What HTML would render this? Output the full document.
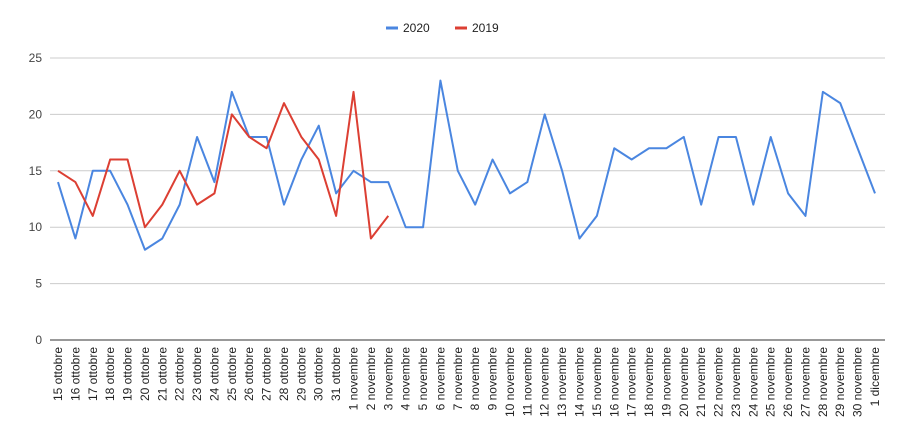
<!DOCTYPE html>
<html><head><meta charset="utf-8"><style>
body{margin:0;background:#fff;font-family:"Liberation Sans",Arial,sans-serif}
</style></head><body>
<svg id="c" width="906" height="441" xmlns="http://www.w3.org/2000/svg" font-family="Liberation Sans, Arial, sans-serif"></svg>
<script>
const categories=["15 ottobre","16 ottobre","17 ottobre","18 ottobre","19 ottobre","20 ottobre","21 ottobre","22 ottobre","23 ottobre","24 ottobre","25 ottobre","26 ottobre","27 ottobre","28 ottobre","29 ottobre","30 ottobre","31 ottobre","1 novembre","2 novembre","3 novembre","4 novembre","5 novembre","6 novembre","7 novembre","8 novembre","9 novembre","10 novembre","11 novembre","12 novembre","13 novembre","14 novembre","15 novembre","16 novembre","17 novembre","18 novembre","19 novembre","20 novembre","21 novembre","22 novembre","23 novembre","24 novembre","25 novembre","26 novembre","27 novembre","28 novembre","29 novembre","30 novembre","1 dicembre"];
const series2020=[14,9,15,15,12,8,9,12,18,14,22,18,18,12,16,19,13,15,14,14,10,10,23,15,12,16,13,14,20,15,9,11,17,16,17,17,18,12,18,18,12,18,13,11,22,21,17,13];
const series2019=[15,14,11,16,16,10,12,15,12,13,20,18,17,21,18,16,11,22,9,11];
const yTicks=[0,5,10,15,20,25];
const svg=document.getElementById('c');
const NS='http://www.w3.org/2000/svg';
const x0=58,x1=875,yBase=340,yTop=58,yMax=25;
function xs(i){return x0+(x1-x0)*i/(categories.length-1);}
function ys(v){return yBase-(yBase-yTop)*v/yMax;}
function mk(t,a){const e=document.createElementNS(NS,t);for(const k in a)e.setAttribute(k,a[k]);svg.appendChild(e);return e;}
yTicks.forEach(t=>{
  const l=mk('line',{x1:50,x2:885,y1:ys(t),y2:ys(t),stroke:t===0?'#333':'#ccc','stroke-width':1});
  
  
  const tx=mk('text',{x:42,y:ys(t)+4,'text-anchor':'end','font-size':12,fill:'#444'});
  tx.textContent=t;
  
  
});
categories.forEach((c,i)=>{
  const tx=mk('text',{x:0,y:0,'text-anchor':'end','font-size':12,fill:'#222',transform:`translate(${xs(i)+4},347) rotate(-90)`});
  tx.textContent=c;
  
  
});
function line(d,col,name){
  const p=mk('polyline',{points:d.map((v,i)=>xs(i)+','+ys(v)).join(' '),fill:'none',stroke:col,'stroke-width':2,'stroke-linejoin':'round'});
  
  
}
line(series2020,'#4a86e0','line-2020');
line(series2019,'#dc3f33','line-2019');
[[386,'#4a86e0','2020'],[455,'#dc3f33','2019']].forEach(([x,col,lab])=>{
  const l=mk('line',{x1:x,x2:x+12,y1:28,y2:28,stroke:col,'stroke-width':3});
  
  
  const t=mk('text',{x:x+17,y:32,'font-size':12,fill:'#222'});
  t.textContent=lab;
  
  
});
</script>
</body></html>
